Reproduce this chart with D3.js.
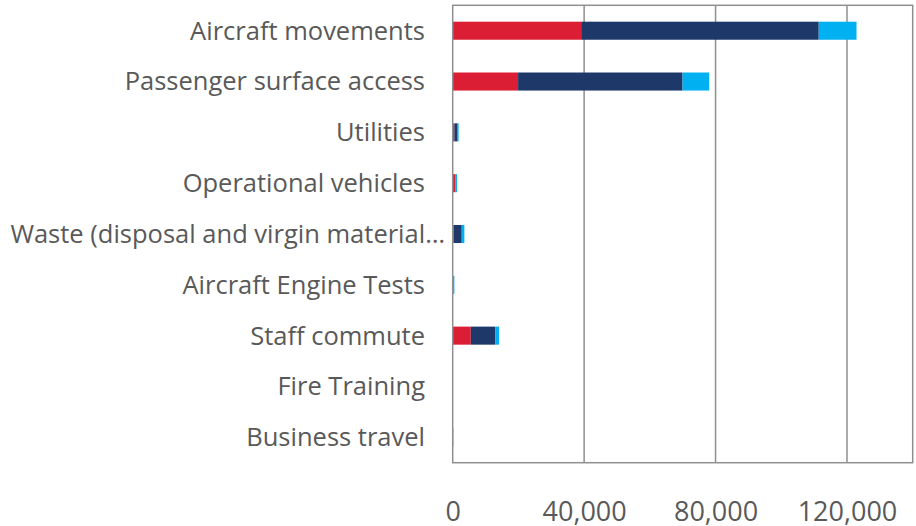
<!DOCTYPE html>
<html><head><meta charset="utf-8">
<script src="https://cdn.jsdelivr.net/npm/d3@7"></script>
<style>html,body{margin:0;padding:0;background:#fff;}svg{display:block;}</style>
</head><body>
<svg id="chart" width="916" height="526"></svg>
<script>
const categories = ["Aircraft movements","Passenger surface access","Utilities","Operational vehicles","Waste (disposal and virgin material…","Aircraft Engine Tests","Staff commute","Fire Training","Business travel"];
const seriesNames = ["Series A","Series B","Series C"];
const seriesA = [39100, 19900, 500, 800, 300, 0, 5500, 0, 0];
const seriesB = [72300, 50050, 1000, 100, 2450, 100, 7500, 0, 150];
const seriesC = [11500, 8130, 300, 400, 800, 400, 1100, 0, 0];
const colors = ["#DC1E35", "#1D3869", "#00B0F0"];
const tickValues = [0, 40000, 80000, 120000];
const xMax = 140000;

const svg = d3.select("#chart");
const m = {left: 452.7, right: 916-912.7, top: 5.3, bottom: 526-462.7};
const W = 916, H = 526;
const x = d3.scaleLinear().domain([0, xMax]).range([m.left, W - m.right]);
const y = d3.scaleBand().domain(categories).range([m.top, H - m.bottom]).paddingInner(0.645).paddingOuter(0.3225);

const font = "'Open Sans', sans-serif";
const textColor = "#595959";
const gridColor = "#8f8f8f";

// gridlines
svg.append("g").selectAll("line").data(tickValues.slice(1)).join("line")
  .attr("x1", d => x(d)).attr("x2", d => x(d))
  .attr("y1", m.top).attr("y2", H - m.bottom)
  .attr("stroke", gridColor).attr("stroke-width", 1.5);

// stacked data
const rows = categories.map((c, i) => ({cat: c, a: seriesA[i], b: seriesB[i], c: seriesC[i]}));
const stack = d3.stack().keys(["a","b","c"])(rows);
svg.append("g").selectAll("g").data(stack).join("g")
  .attr("fill", (d, i) => colors[i])
  .selectAll("rect").data(d => d).join("rect")
  .attr("x", d => x(d[0]))
  .attr("width", d => Math.max(0, x(d[1]) - x(d[0])))
  .attr("y", d => y(d.data.cat))
  .attr("height", y.bandwidth());

// border
svg.append("rect").attr("x", m.left).attr("y", m.top)
  .attr("width", x(xMax) - m.left).attr("height", H - m.bottom - m.top)
  .attr("fill", "none").attr("stroke", gridColor).attr("stroke-width", 1.5);

// x axis labels
const xAxis = d3.axisBottom(x).tickValues(tickValues).tickFormat(d3.format(",")).tickSize(0).tickPadding(0);
const gx = svg.append("g").attr("transform", `translate(0,${H - m.bottom})`).call(xAxis);
gx.select(".domain").remove();
gx.selectAll("text").attr("dy", null).attr("y", 58.5)
  .attr("font-family", font).attr("font-size", 27).attr("fill", textColor);

// y axis labels
const yAxis = d3.axisLeft(y).tickSize(0).tickPadding(0);
const gy = svg.append("g").attr("transform", `translate(${m.left},0)`).call(yAxis);
gy.select(".domain").remove();
gy.selectAll("text")
  .attr("x", d => d.endsWith("…") ? -7.7 : -27.7)
  .attr("dy", "0.35em")
  .attr("font-family", font).attr("font-size", 25.5).attr("fill", textColor);
</script>
</body></html>
